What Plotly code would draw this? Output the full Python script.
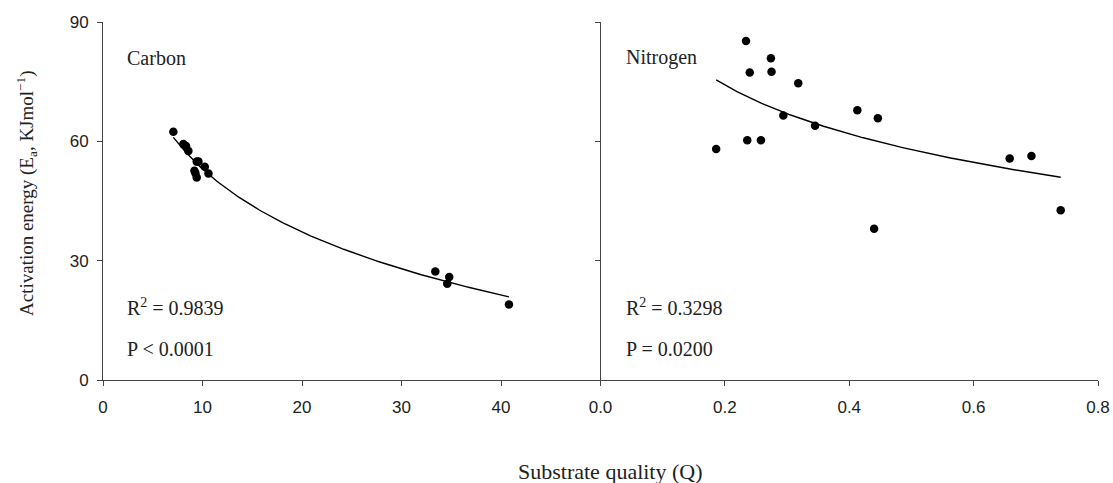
import numpy as np
import plotly.graph_objects as go

# ---- Data ----
carbon_q = [7.07, 8.08, 8.35, 8.58, 9.42, 9.59, 10.23, 9.19, 9.29, 9.42, 10.6,
            33.4, 34.8, 34.6, 40.8]
carbon_ea = [62.4, 59.3, 58.8, 57.6, 54.9, 54.9, 53.6, 52.6, 52.0, 50.9, 51.9,
             27.3, 25.9, 24.2, 19.0]

nitrogen_q = [0.234, 0.274, 0.240, 0.275, 0.318, 0.294, 0.413, 0.446, 0.345,
              0.186, 0.236, 0.258, 0.658, 0.693, 0.740, 0.440]
nitrogen_ea = [85.2, 80.9, 77.3, 77.5, 74.6, 66.5, 67.8, 65.8, 63.9,
               58.1, 60.3, 60.3, 55.7, 56.3, 42.7, 38.0]

carbon_ticks = [0, 10, 20, 30, 40]
nitrogen_ticks = [0.0, 0.2, 0.4, 0.6, 0.8]
y_ticks = [0, 30, 60, 90]

carbon_stats = ["Carbon", "R<sup>2</sup> = 0.9839", "P < 0.0001"]
nitrogen_stats = ["Nitrogen", "R<sup>2</sup> = 0.3298", "P = 0.0200"]


def log_fit(x, y):
    x = np.asarray(x, float)
    y = np.asarray(y, float)
    b, a = np.polyfit(np.log(x), y, 1)
    xs = np.linspace(x.min(), x.max(), 200)
    return xs, a + b * np.log(xs)


SERIF = "Liberation Serif, Times New Roman, serif"
SANS = "Liberation Sans, Arial, sans-serif"
AX = "#444444"

fig = go.Figure()

cx, cy = log_fit(carbon_q, carbon_ea)
nx, ny = log_fit(nitrogen_q, nitrogen_ea)

fig.add_trace(go.Scatter(x=cx, y=cy, mode="lines", line=dict(color="black", width=1.4),
                         xaxis="x", yaxis="y", showlegend=False, hoverinfo="skip"))
fig.add_trace(go.Scatter(x=carbon_q, y=carbon_ea, mode="markers",
                         marker=dict(color="black", size=8.5),
                         xaxis="x", yaxis="y", showlegend=False))
fig.add_trace(go.Scatter(x=nx, y=ny, mode="lines", line=dict(color="black", width=1.4),
                         xaxis="x2", yaxis="y2", showlegend=False, hoverinfo="skip"))
fig.add_trace(go.Scatter(x=nitrogen_q, y=nitrogen_ea, mode="markers",
                         marker=dict(color="black", size=8.5),
                         xaxis="x2", yaxis="y2", showlegend=False))

axis_common = dict(showgrid=False, zeroline=False, showline=True, linecolor=AX,
                   linewidth=1, ticks="outside", ticklen=5, tickcolor=AX,
                   tickfont=dict(family=SANS, size=17, color="#222222"))

fig.update_layout(
    width=1122, height=483,
    margin=dict(l=103, r=14, t=22, b=103),
    paper_bgcolor="white", plot_bgcolor="white",
    xaxis=dict(domain=[0, 0.5], range=[0, 50], tickvals=carbon_ticks, anchor="y",
               ticklabelstandoff=7, **axis_common),
    yaxis=dict(domain=[0, 1], range=[0, 90], tickvals=y_ticks, anchor="x",
               ticklabelstandoff=5, **axis_common),
    xaxis2=dict(domain=[0.5, 1.0], range=[0, 0.8], tickvals=nitrogen_ticks,
                tickformat=".1f", anchor="y2", ticklabelstandoff=7, **axis_common),
    yaxis2=dict(domain=[0, 1], range=[0, 90], tickvals=y_ticks, anchor="x2",
                showticklabels=False, **axis_common),
)

anns = []
text_font = dict(family=SERIF, size=20, color="#222222")
for (xr, yr, xs_, stats) in [("x", "y", 2.2, carbon_stats), ("x2", "y2", 0.038, nitrogen_stats)]:
    for txt, yv in zip(stats, [81, 18.3, 7.8]):
        anns.append(dict(text=txt, xref=xr, yref=yr, x=xs_, y=yv, xanchor="left",
                         yanchor="middle", showarrow=False, font=text_font))

anns.append(dict(text="Activation energy (E<sub>a</sub>, KJmol<sup>\u22121</sup>)",
                 xref="paper", yref="paper", x=-0.0775, y=0.522, textangle=-90,
                 xanchor="center", yanchor="middle", showarrow=False,
                 font=dict(family=SERIF, size=19, color="#222222")))
anns.append(dict(text="Substrate quality (Q)", xref="paper", yref="paper",
                 x=0.510, y=-0.256, xanchor="center", yanchor="middle",
                 showarrow=False, font=dict(family=SERIF, size=22, color="#222222")))
fig.update_layout(annotations=anns)

fig.write_html("out.html", config={"displayModeBar": False},
               post_script="document.body.style.margin='0px';document.body.style.overflow='hidden';")
